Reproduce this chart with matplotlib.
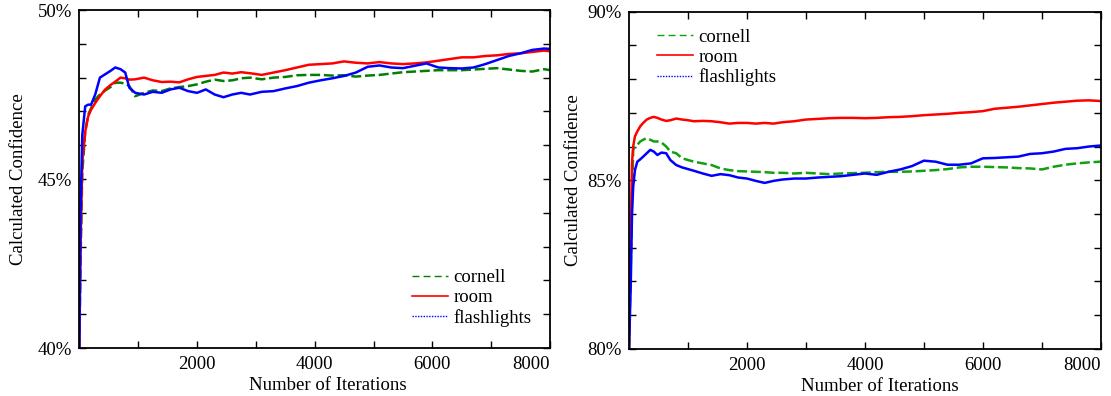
import matplotlib
matplotlib.use("Agg")
import matplotlib.pyplot as plt
from matplotlib.lines import Line2D

plt.rcParams['font.family'] = ['Liberation Serif', 'DejaVu Serif']
plt.rcParams['font.size'] = 13.5

# ---- left panel: confidence (%) vs iteration ----
iters_left = [0, 20, 50, 100, 150, 200, 270, 350, 440, 530, 610, 700, 780, 850, 950,
              1100, 1250, 1400, 1550, 1700, 1850, 2000, 2150, 2300, 2450, 2600, 2750,
              2900, 3100, 3300, 3500, 3700, 3900, 4100, 4300, 4500, 4700, 4900, 5100,
              5300, 5500, 5700, 5900, 6100, 6300, 6500, 6700, 6900, 7100, 7300, 7500,
              7700, 7900, 8000]
cornell_left = [40.0, 42.5, 45.2, 46.4, 46.9, 47.1, 47.35, 47.5, 47.62, 47.72, 47.85, 47.85,
                47.82, 47.75, 47.45, 47.55, 47.62, 47.6, 47.68, 47.72, 47.75, 47.8, 47.88,
                47.94, 47.9, 47.92, 47.98, 48.0, 47.95, 48.0, 48.02, 48.07, 48.08, 48.08,
                48.06, 48.07, 48.03, 48.06, 48.08, 48.12, 48.16, 48.18, 48.2, 48.22, 48.22,
                48.22, 48.24, 48.26, 48.28, 48.24, 48.2, 48.18, 48.25, 48.22]
room_left = [40.0, 43.0, 45.5, 46.4, 46.85, 47.05, 47.25, 47.45, 47.65, 47.78, 47.88, 48.0,
             47.98, 47.94, 47.95, 48.0, 47.92, 47.87, 47.88, 47.86, 47.95, 48.02, 48.05,
             48.08, 48.15, 48.12, 48.16, 48.13, 48.08, 48.15, 48.22, 48.3, 48.38, 48.4,
             48.42, 48.48, 48.44, 48.42, 48.46, 48.42, 48.4, 48.42, 48.45, 48.5, 48.55,
             48.6, 48.6, 48.64, 48.66, 48.7, 48.72, 48.76, 48.8, 48.78]
flash_left = [40.0, 44.0, 46.3, 47.15, 47.2, 47.2, 47.5, 48.0, 48.1, 48.2, 48.3, 48.25,
              48.15, 47.7, 47.55, 47.5, 47.58, 47.55, 47.65, 47.7, 47.6, 47.55, 47.65, 47.5,
              47.42, 47.5, 47.55, 47.5, 47.58, 47.6, 47.68, 47.75, 47.85, 47.92, 47.98,
              48.05, 48.15, 48.32, 48.36, 48.3, 48.28, 48.35, 48.42, 48.3, 48.28, 48.27,
              48.3, 48.4, 48.52, 48.64, 48.72, 48.82, 48.86, 48.85]

# ---- right panel ----
iters_right = [0, 30, 50, 70, 100, 140, 190, 240, 300, 360, 420, 480, 550, 630, 700, 800,
               900, 1000, 1100, 1250, 1400, 1550, 1700, 1850, 2000, 2150, 2300, 2450, 2600,
               2800, 3000, 3200, 3400, 3600, 3800, 4000, 4200, 4400, 4600, 4800, 5000,
               5200, 5400, 5600, 5800, 6000, 6200, 6400, 6600, 6800, 7000, 7200, 7400,
               7600, 7800, 8000]
cornell_right = [80.0, 82.5, 84.4, 85.9, 86.0, 86.05, 86.15, 86.2, 86.25, 86.2, 86.15,
                 86.15, 86.12, 86.0, 85.85, 85.8, 85.65, 85.6, 85.55, 85.5, 85.45, 85.35,
                 85.3, 85.27, 85.26, 85.25, 85.24, 85.22, 85.22, 85.2, 85.22, 85.2, 85.18,
                 85.2, 85.21, 85.22, 85.24, 85.25, 85.25, 85.26, 85.28, 85.3, 85.33, 85.38,
                 85.4, 85.4, 85.39, 85.38, 85.36, 85.35, 85.32, 85.4, 85.46, 85.5, 85.53,
                 85.55]
room_right = [80.0, 83.5, 85.5, 86.0, 86.3, 86.45, 86.6, 86.7, 86.8, 86.85, 86.88, 86.85,
              86.8, 86.76, 86.78, 86.83, 86.8, 86.78, 86.75, 86.76, 86.75, 86.72, 86.68,
              86.7, 86.7, 86.68, 86.7, 86.68, 86.72, 86.75, 86.8, 86.82, 86.84, 86.85,
              86.85, 86.84, 86.85, 86.87, 86.88, 86.9, 86.93, 86.95, 86.97, 87.0, 87.02,
              87.05, 87.12, 87.15, 87.18, 87.22, 87.26, 87.3, 87.33, 87.36, 87.37, 87.35]
flash_right = [80.0, 82.0, 84.0, 84.8, 85.3, 85.55, 85.62, 85.7, 85.8, 85.9, 85.85, 85.75,
               85.82, 85.8, 85.6, 85.45, 85.38, 85.33, 85.28, 85.2, 85.13, 85.18, 85.15,
               85.08, 85.05, 84.98, 84.92, 84.98, 85.02, 85.05, 85.05, 85.08, 85.1, 85.12,
               85.16, 85.2, 85.16, 85.25, 85.32, 85.42, 85.58, 85.55, 85.46, 85.46, 85.5,
               85.65, 85.66, 85.68, 85.7, 85.78, 85.8, 85.85, 85.93, 85.95, 86.0, 86.03]

x_ticks = [1000, 2000, 3000, 4000, 5000, 6000, 7000, 8000]
x_ticklabels = ['', '2000', '', '4000', '', '6000', '', '8000']
series_names = ['cornell', 'room', 'flashlights']

GREEN = '#008000'
RED = '#ff0000'
BLUE = '#0000ff'


def style_axes(ax, ylo, label_x, label_y):
    ax.set_xlim(0, 8000)
    ax.set_ylim(ylo, ylo + 10)
    ax.set_xticks(x_ticks)
    ax.set_xticklabels(x_ticklabels)
    ax.get_xticklabels()[-1].set_ha('right')
    yt = list(range(ylo, ylo + 11))
    ax.set_yticks(yt)
    ax.set_yticklabels([f'{v}%' if (v - ylo) % 5 == 0 else '' for v in yt])
    ax.tick_params(direction='in', length=5, width=1, top=True, right=True,
                   labelsize=13.5)
    ax.tick_params(axis='x', pad=6)
    ax.tick_params(axis='y', pad=5)
    for sp in ax.spines.values():
        sp.set_linewidth(1.3)
    ax.set_xlabel('Number of Iterations', fontsize=13.5)
    ax.set_ylabel('Calculated Confidence', fontsize=13.5)
    ax.xaxis.set_label_coords(label_x, -0.086)
    ax.yaxis.set_label_coords(label_y, 0.5)


def legend_handles(green):
    return [Line2D([], [], color=green, lw=1, linestyle=(0, (5, 3))),
            Line2D([], [], color=RED, lw=1.2),
            Line2D([], [], color=BLUE, lw=1, linestyle=(0, (1, 1)))]


fig = plt.figure(figsize=(11.11, 3.96), dpi=100)
ax1 = fig.add_axes([0.0714, 0.1212, 0.4237, 0.8535])
ax2 = fig.add_axes([0.5662, 0.1194, 0.4246, 0.8510])

# left panel
ax1.plot(iters_left, cornell_left, color=GREEN, lw=1.8, linestyle=(0, (4, 1.5)))
ax1.plot(iters_left, room_left, color=RED, lw=1.8)
ax1.plot(iters_left, flash_left, color=BLUE, lw=1.8)
style_axes(ax1, 40, 0.527, -0.111)
ax1.legend(legend_handles(GREEN), series_names, loc='upper left',
           bbox_to_anchor=(0.707, 0.233), frameon=False, borderpad=0,
           borderaxespad=0, handlelength=1.9, handletextpad=0.3,
           labelspacing=0.15, fontsize=13.5)

# right panel
GREEN2 = '#11a011'
ax2.plot(iters_right, cornell_right, color=GREEN2, lw=1.8, linestyle=(0, (4, 1.5)))
ax2.plot(iters_right, room_right, color=RED, lw=1.8)
ax2.plot(iters_right, flash_right, color=BLUE, lw=1.8)
style_axes(ax2, 80, 0.532, -0.100)
ax2.legend(legend_handles(GREEN2), series_names, loc='upper left',
           bbox_to_anchor=(0.059, 0.950), frameon=False, borderpad=0,
           borderaxespad=0, handlelength=1.9, handletextpad=0.3,
           labelspacing=0.15, fontsize=13.5)

fig.savefig('out.png', dpi=100)
